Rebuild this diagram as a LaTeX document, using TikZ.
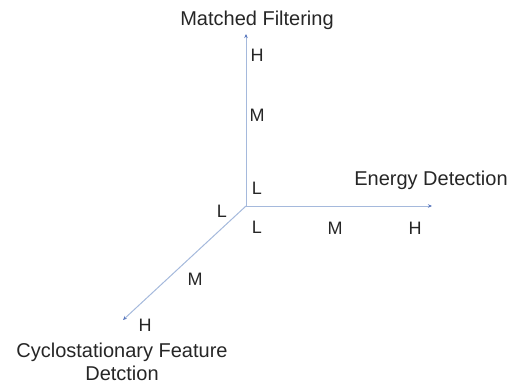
\documentclass[tikz,border=0pt]{standalone}
\usepackage{fontspec}
\setmainfont{Liberation Sans}
\usetikzlibrary{arrows.meta}
\definecolor{axisline}{RGB}{165,185,220}
\definecolor{axistip}{RGB}{90,120,190}
\begin{document}
\begin{tikzpicture}[x=1pt,y=-1pt,
  axis/.style={draw=axisline,line width=1pt,-{Stealth[length=4pt,width=3.5pt,color=axistip]}},
  lbl/.style={font=\fontsize{18}{20}\selectfont,text=black!85,inner sep=0pt,anchor=base},
  title/.style={font=\fontsize{20}{23}\selectfont,text=black!85,inner sep=0pt,anchor=base}]
\useasboundingbox (0,0) rectangle (515,383);
\coordinate (o) at (246,206);
\coordinate (up) at (246,34);
\coordinate (rt) at (432,206);
\coordinate (dl) at (123,320);
\draw[axis] (o) -- (up);
\draw[axis] (o) -- (rt);
\draw[axis] (o) -- (dl);
% axis titles
\node[title] (mf) at (257,25) {Matched Filtering};
\node[title] (ed) at (431,185) {Energy Detection};
\node[title] (cf) at (122,357) {Cyclostationary Feature};
\node[title] (cf2) at (122,380) {Detction};
% levels on the vertical axis
\node[lbl] (vh) at (257,61) {H};
\node[lbl] (vm) at (257,121) {M};
\node[lbl] (vl) at (257,194) {L};
% levels on the horizontal axis
\node[lbl] (hl) at (257,233) {L};
\node[lbl] (hm) at (335,234) {M};
\node[lbl] (hh) at (415,234) {H};
% levels on the diagonal axis
\node[lbl] (dlo) at (222,217) {L};
\node[lbl] (dm) at (195,285) {M};
\node[lbl] (dh) at (145,331) {H};
\end{tikzpicture}
\end{document}
